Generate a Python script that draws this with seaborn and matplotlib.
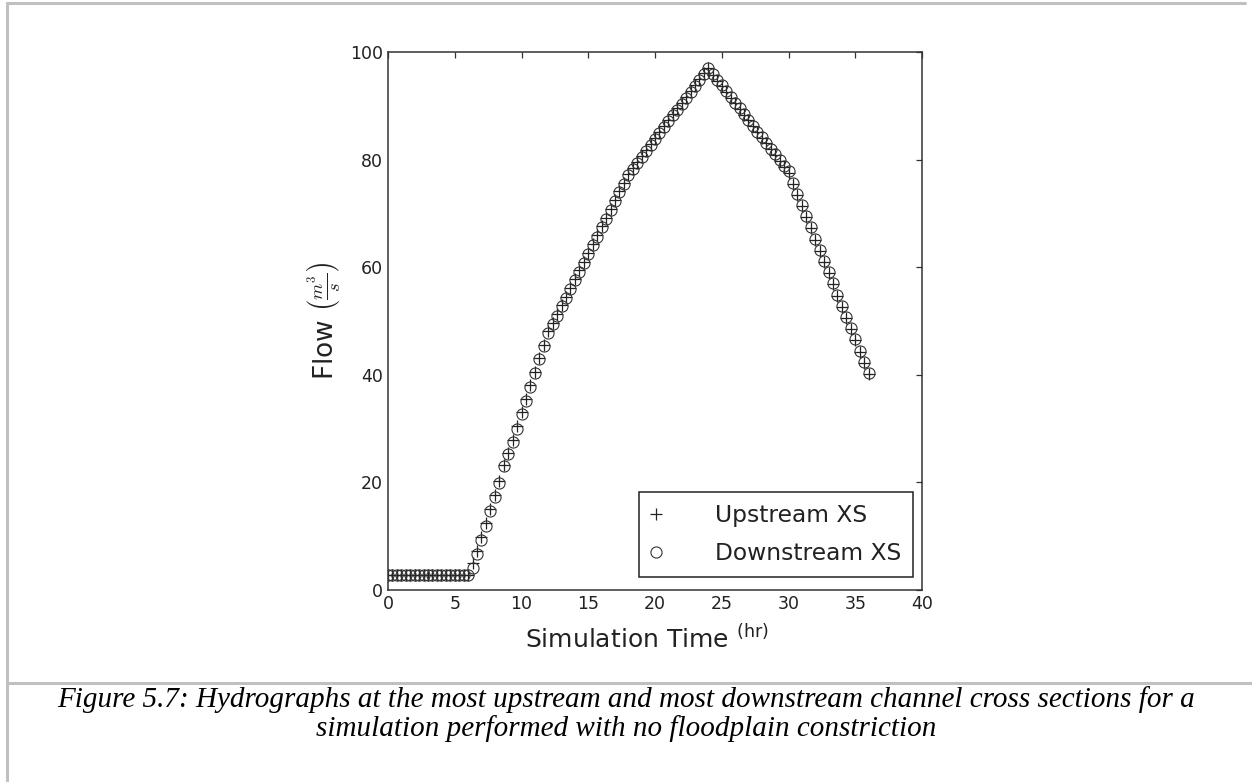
import matplotlib
matplotlib.use("Agg")
import matplotlib.pyplot as plt
from matplotlib.lines import Line2D
import seaborn as sns
import pandas as pd

# ---------------- data ----------------
time_hr = [
    0.00, 0.33, 0.67, 1.00, 1.33, 1.67, 2.00, 2.33, 2.67, 3.00, 3.33, 3.67, 4.00, 4.33, 4.67, 5.00, 5.33, 5.67, 6.00,
    6.33, 6.67, 7.00, 7.33, 7.67, 8.00, 8.33, 8.67, 9.00, 9.33, 9.67, 10.00, 10.33, 10.67, 11.00, 11.33, 11.67, 12.00,
    12.33, 12.67, 13.00, 13.33, 13.67, 14.00, 14.33, 14.67, 15.00, 15.33, 15.67, 16.00, 16.33, 16.67, 17.00, 17.33, 17.67, 18.00,
    18.33, 18.67, 19.00, 19.33, 19.67, 20.00, 20.33, 20.67, 21.00, 21.33, 21.67, 22.00, 22.33, 22.67, 23.00, 23.33, 23.67, 24.00,
    24.33, 24.67, 25.00, 25.33, 25.67, 26.00, 26.33, 26.67, 27.00, 27.33, 27.67, 28.00, 28.33, 28.67, 29.00, 29.33, 29.67, 30.00,
    30.33, 30.67, 31.00, 31.33, 31.67, 32.00, 32.33, 32.67, 33.00, 33.33, 33.67, 34.00, 34.33, 34.67, 35.00, 35.33, 35.67, 36.00,
]

upstream_flow = [
    2.8, 2.8, 2.8, 2.8, 2.8, 2.8, 2.8, 2.8, 2.8, 2.8, 2.8, 2.8, 2.8, 2.8, 2.8, 2.8, 2.8, 2.8, 2.8,
    5.0, 7.3, 9.8, 12.4, 15.0, 17.6, 20.3, 23.2, 25.5, 27.9, 30.4, 33.0, 35.5, 38.1, 40.6, 43.1, 45.6, 48.1,
    49.7, 51.3, 52.9, 54.5, 56.2, 57.8, 59.4, 61.0, 62.7, 64.3, 65.9, 67.6, 69.2, 70.8, 72.5, 74.1, 75.7, 77.4,
    78.5, 79.6, 80.7, 81.8, 82.9, 84.0, 85.1, 86.2, 87.3, 88.4, 89.5, 90.6, 91.7, 92.8, 93.9, 95.0, 96.1, 97.1,
    95.8, 94.7, 93.7, 92.6, 91.5, 90.5, 89.4, 88.3, 87.3, 86.2, 85.1, 84.1, 83.0, 81.9, 80.9, 79.8, 78.7, 77.6,
    75.5, 73.4, 71.4, 69.3, 67.2, 65.1, 63.0, 61.0, 58.9, 56.8, 54.7, 52.6, 50.6, 48.5, 46.4, 44.3, 42.2, 40.2,
]

downstream_flow = [
    2.8, 2.8, 2.8, 2.8, 2.8, 2.8, 2.8, 2.8, 2.8, 2.8, 2.8, 2.8, 2.8, 2.8, 2.8, 2.8, 2.8, 2.8, 2.8,
    4.0, 6.6, 9.3, 11.9, 14.6, 17.2, 19.8, 23.0, 25.2, 27.6, 30.0, 32.7, 35.2, 37.8, 40.3, 42.9, 45.4, 47.8,
    49.4, 51.0, 52.7, 54.3, 55.9, 57.6, 59.2, 60.8, 62.5, 64.1, 65.7, 67.4, 69.0, 70.6, 72.3, 73.9, 75.5, 77.2,
    78.3, 79.4, 80.5, 81.6, 82.7, 83.8, 84.9, 86.0, 87.1, 88.2, 89.3, 90.4, 91.5, 92.6, 93.7, 94.8, 95.9, 97.0,
    95.9, 94.8, 93.8, 92.7, 91.6, 90.6, 89.5, 88.4, 87.4, 86.3, 85.2, 84.2, 83.1, 82.0, 81.0, 79.9, 78.8, 77.8,
    75.7, 73.6, 71.6, 69.5, 67.4, 65.3, 63.2, 61.2, 59.1, 57.0, 54.9, 52.8, 50.8, 48.7, 46.6, 44.5, 42.4, 40.4,
]

x_ticks = [0, 5, 10, 15, 20, 25, 30, 35, 40]
y_ticks = [0, 20, 40, 60, 80, 100]
series_labels = ["Upstream XS", "Downstream XS"]
caption_lines = [
    "Figure 5.7: Hydrographs at the most upstream and most downstream channel cross sections for a",
    "simulation performed with no floodplain constriction",
]

# ---------------- style ----------------
sns.set_style("white")
plt.rcParams.update({
    "font.family": ["DejaVu Sans"],
    "mathtext.fontset": "cm",
    "xtick.direction": "in",
    "ytick.direction": "in",
    "xtick.top": True,
    "ytick.right": True,
    "xtick.major.size": 4.5,
    "ytick.major.size": 4.5,
    "xtick.major.width": 0.9,
    "ytick.major.width": 0.9,
    "xtick.color": "#333333",
    "ytick.color": "#333333",
    "xtick.labelcolor": "#222222",
    "ytick.labelcolor": "#222222",
    "xtick.labelsize": 12.5,
    "ytick.labelsize": 12.5,
})

W, H = 1252, 782
fig = plt.figure(figsize=(W / 100, H / 100), dpi=100)
fig.patch.set_facecolor("white")
ax = fig.add_axes([388 / W, 1 - 590 / H, 534 / W, 538 / H])

df_up = pd.DataFrame({"t": time_hr, "q": upstream_flow})
df_dn = pd.DataFrame({"t": time_hr, "q": downstream_flow})

sns.lineplot(data=df_up, x="t", y="q", ax=ax, linestyle="", marker="+",
             color="#222222", markersize=9, markeredgewidth=0.9,
             markeredgecolor="#222222", label=series_labels[0], sort=False)
sns.lineplot(data=df_dn, x="t", y="q", ax=ax, linestyle="", marker="o",
             color="#333333", markersize=8, markeredgewidth=0.8,
             markeredgecolor="#333333", markerfacecolor="none",
             label=series_labels[1], sort=False)

ax.set_xlim(0, 40)
ax.set_ylim(0, 100)
ax.set_xticks(x_ticks)
ax.set_yticks(y_ticks)
for sp in ax.spines.values():
    sp.set_color("#333333")
    sp.set_linewidth(1.1)

ax.set_xlabel(r"Simulation Time $\mathregular{^{(hr)}}$", fontsize=18, color="#222222")
ax.xaxis.set_label_coords((647 - 388) / 534, -(637 - 590) / 538 - 0.004)
ax.xaxis.label.set_va("center")
ax.set_ylabel(r"Flow $\left(\frac{m^3}{s}\right)$", fontsize=19, color="#222222", labelpad=6)

leg = ax.legend(loc="lower right", bbox_to_anchor=((913 - 388) / 534, (590 - 577) / 538),
                fontsize=16.8, frameon=True, fancybox=False,
                framealpha=1, edgecolor="#222222", borderpad=0.5,
                handlelength=0.5, handletextpad=2.27, labelspacing=0.66,
                borderaxespad=0.0, numpoints=1)
leg.get_frame().set_linewidth(1.1)
for t in leg.get_texts():
    t.set_color("#222222")

# ---------------- page decorations ----------------
gray = "#c0c0c0"
fig.add_artist(Line2D([7 / W, 7 / W], [0, 1 - 3 / H], transform=fig.transFigure, color=gray, lw=2.2))
fig.add_artist(Line2D([7 / W, 1245 / W], [1 - 3 / H, 1 - 3 / H], transform=fig.transFigure, color=gray, lw=2.2))
fig.add_artist(Line2D([7 / W, 1], [1 - 683 / H, 1 - 683 / H], transform=fig.transFigure, color=gray, lw=2.2))

fig.text(626 / W, 1 - 700 / H, caption_lines[0], ha="center", va="center",
         fontsize=21, family="Liberation Serif", style="italic", color="black")
fig.text(626 / W, 1 - 729 / H, caption_lines[1], ha="center", va="center",
         fontsize=21, family="Liberation Serif", style="italic", color="black")

fig.savefig("out.png", dpi=100, facecolor="white")
